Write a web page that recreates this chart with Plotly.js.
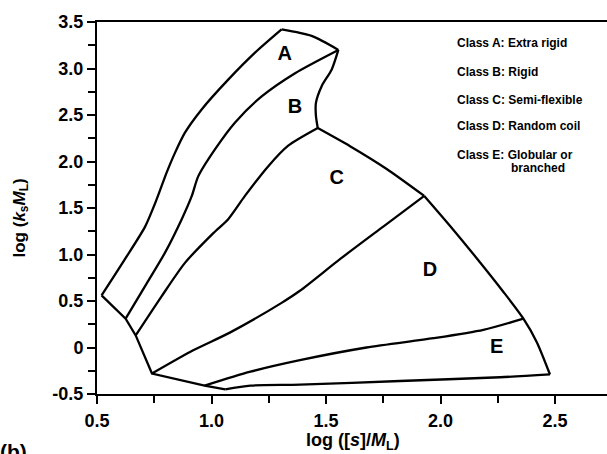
<!DOCTYPE html>
<html><head><meta charset="utf-8">
<script src="https://cdn.plot.ly/plotly-3.0.1.min.js"></script>
<style>html,body{margin:0;padding:0;background:#fff}#chart{width:607px;height:454px}</style>
</head><body><div id="chart"></div>
<script>
// Boundary curves (log([s]/M_L), log(k_s M_L))
const outerLeftX = [0.52, 0.622, 0.71, 0.76, 0.804, 0.84, 0.884, 0.957, 1.073, 1.19, 1.306];
const outerLeftY = [0.56, 0.95, 1.30, 1.59, 1.88, 2.09, 2.31, 2.56, 2.88, 3.17, 3.42];
const topEdgeX = [1.306, 1.437, 1.554];
const topEdgeY = [3.42, 3.35, 3.20];
const abX = [0.625, 0.71, 0.797, 0.87, 0.914, 0.942, 1.015, 1.103, 1.219, 1.365, 1.554];
const abY = [0.31, 0.66, 1.02, 1.38, 1.63, 1.84, 2.13, 2.42, 2.70, 2.95, 3.20];
const bRightX = [1.554, 1.525, 1.481, 1.456, 1.456, 1.464];
const bRightY = [3.20, 2.99, 2.81, 2.63, 2.49, 2.36];
const bcX = [0.669, 0.782, 0.884, 1.008, 1.073, 1.146, 1.248, 1.335, 1.464];
const bcY = [0.13, 0.55, 0.91, 1.23, 1.38, 1.63, 1.95, 2.17, 2.36];
const arcUpperX = [1.464, 1.605, 1.765, 1.929];
const arcUpperY = [2.36, 2.165, 1.92, 1.63];
const arcLowerX = [1.929, 2.041, 2.158, 2.274, 2.362, 2.42, 2.478];
const arcLowerY = [1.63, 1.31, 0.96, 0.60, 0.31, 0.06, -0.29];
const cdX = [0.74, 0.92, 1.08, 1.306, 1.386, 1.561, 1.75, 1.929];
const cdY = [-0.28, -0.03, 0.16, 0.48, 0.61, 0.95, 1.30, 1.63];
const deX = [0.97, 1.17, 1.386, 1.677, 1.969, 2.187, 2.362];
const deY = [-0.41, -0.26, -0.136, 0.0, 0.10, 0.19, 0.31];
const lowerLeftX = [0.52, 0.625, 0.669, 0.74, 0.97, 1.06];
const lowerLeftY = [0.56, 0.31, 0.13, -0.28, -0.41, -0.45];
const bottomX = [1.06, 1.17, 1.386, 1.823, 2.26, 2.478];
const bottomY = [-0.45, -0.41, -0.40, -0.36, -0.32, -0.29];

const classLetters = ['A', 'B', 'C', 'D', 'E'];
const classLabelX = [1.32, 1.365, 1.547, 1.954, 2.245];
const classLabelY = [3.15, 2.57, 1.81, 0.82, 0.0];
const legendLines = ['Class A: Extra rigid', 'Class B: Rigid', 'Class C: Semi-flexible', 'Class D: Random coil', 'Class E: Globular or'];
const legendExtra = 'branched';

const xTickVals = [0.5, 1.0, 1.5, 2.0, 2.5];
const xTickText = ['0.5', '1.0', '1.5', '2.0', '2.5'];
const yTickVals = [-0.5, 0, 0.5, 1.0, 1.5, 2.0, 2.5, 3.0, 3.5];
const yTickText = ['-0.5', '0', '0.5', '1.0', '1.5', '2.0', '2.5', '3.0', '3.5'];

const FONT = 'Liberation Sans, Arial, Helvetica, sans-serif';
const lineStyle = {color: '#000', width: 2.3};
function curve(x, y, shape) {
  return {x: x, y: y, type: 'scatter', mode: 'lines', hoverinfo: 'skip', showlegend: false,
    line: Object.assign({shape: shape, smoothing: 0.7}, lineStyle)};
}
const traces = [
  curve(outerLeftX, outerLeftY, 'spline'),
  curve(topEdgeX, topEdgeY, 'spline'),
  curve(abX, abY, 'spline'),
  curve(bRightX, bRightY, 'spline'),
  curve(bcX, bcY, 'spline'),
  curve(arcUpperX, arcUpperY, 'spline'),
  curve(arcLowerX, arcLowerY, 'spline'),
  curve(cdX, cdY, 'spline'),
  curve(deX, deY, 'spline'),
  curve(lowerLeftX, lowerLeftY, 'linear'),
  curve(bottomX, bottomY, 'spline'),
  {x: classLabelX, y: classLabelY, text: classLetters, type: 'scatter', mode: 'text', showlegend: false,
   hoverinfo: 'skip', textfont: {family: FONT, size: 20, weight: 'bold', color: '#000'}}
];

const px2x = p => (p - 97) / 510;
const py2y = p => (394.5 - p) / 372;
const annotations = [];
const legY = [44, 72, 100, 127, 155];
legendLines.forEach((t, i) => {
  annotations.push({xref: 'paper', yref: 'paper', x: px2x(455), y: py2y(legY[i]),
    xanchor: 'left', yanchor: 'middle', showarrow: false, text: t,
    font: {family: FONT, size: 12, weight: 'bold', color: '#000'}});
});
annotations.push({xref: 'paper', yref: 'paper', x: px2x(509), y: py2y(168),
  xanchor: 'left', yanchor: 'middle', showarrow: false, text: legendExtra,
  font: {family: FONT, size: 12, weight: 'bold', color: '#000'}});
annotations.push({xref: 'paper', yref: 'paper', x: px2x(-2), y: py2y(438),
  xanchor: 'left', yanchor: 'top', showarrow: false, text: '(b)',
  font: {family: FONT, size: 21, weight: 'bold', color: '#000'}});
annotations.push({xref: 'paper', yref: 'paper', x: px2x(353), y: py2y(442),
  xanchor: 'center', yanchor: 'middle', showarrow: false,
  text: 'log ([<i>s</i>]/<i>M</i><sub>L</sub>)',
  font: {family: FONT, size: 18, weight: 'bold', color: '#000'}});
annotations.push({xref: 'paper', yref: 'paper', x: px2x(20), y: py2y(219),
  xanchor: 'center', yanchor: 'middle', showarrow: false, textangle: -90,
  text: 'log (<i>k</i><sub>s</sub><i>M</i><sub>L</sub>)',
  font: {family: FONT, size: 17, weight: 'bold', color: '#000'}});

const layout = {
  width: 607, height: 454,
  margin: {l: 97, r: 0, t: 22, b: 60},
  paper_bgcolor: '#fff', plot_bgcolor: '#fff',
  showlegend: false,
  xaxis: {range: [0.5, 2.727], tickvals: xTickVals, ticktext: xTickText,
    showgrid: false, zeroline: false, showline: true, mirror: true, linecolor: '#000', linewidth: 2,
    ticks: 'outside', ticklen: 8, tickwidth: 2, tickcolor: '#000', ticklabelstandoff: 1,
    minor: {dtick: 0.25, tick0: 0.5, ticks: 'outside', ticklen: 7, tickwidth: 2, tickcolor: '#000', showgrid: false},
    tickfont: {family: FONT, size: 18, weight: 'bold', color: '#000'}},
  yaxis: {range: [-0.5, 3.5], tickvals: yTickVals, ticktext: yTickText,
    showgrid: false, zeroline: false, showline: true, linecolor: '#000', linewidth: 2,
    ticks: 'outside', ticklen: 8, tickwidth: 2, tickcolor: '#000',
    minor: {dtick: 0.25, tick0: 0, ticks: 'outside', ticklen: 7, tickwidth: 2, tickcolor: '#000', showgrid: false},
    tickfont: {family: FONT, size: 18, weight: 'bold', color: '#000'}},
  annotations: annotations
};
Plotly.newPlot('chart', traces, layout, {staticPlot: true, displayModeBar: false});
</script></body></html>
